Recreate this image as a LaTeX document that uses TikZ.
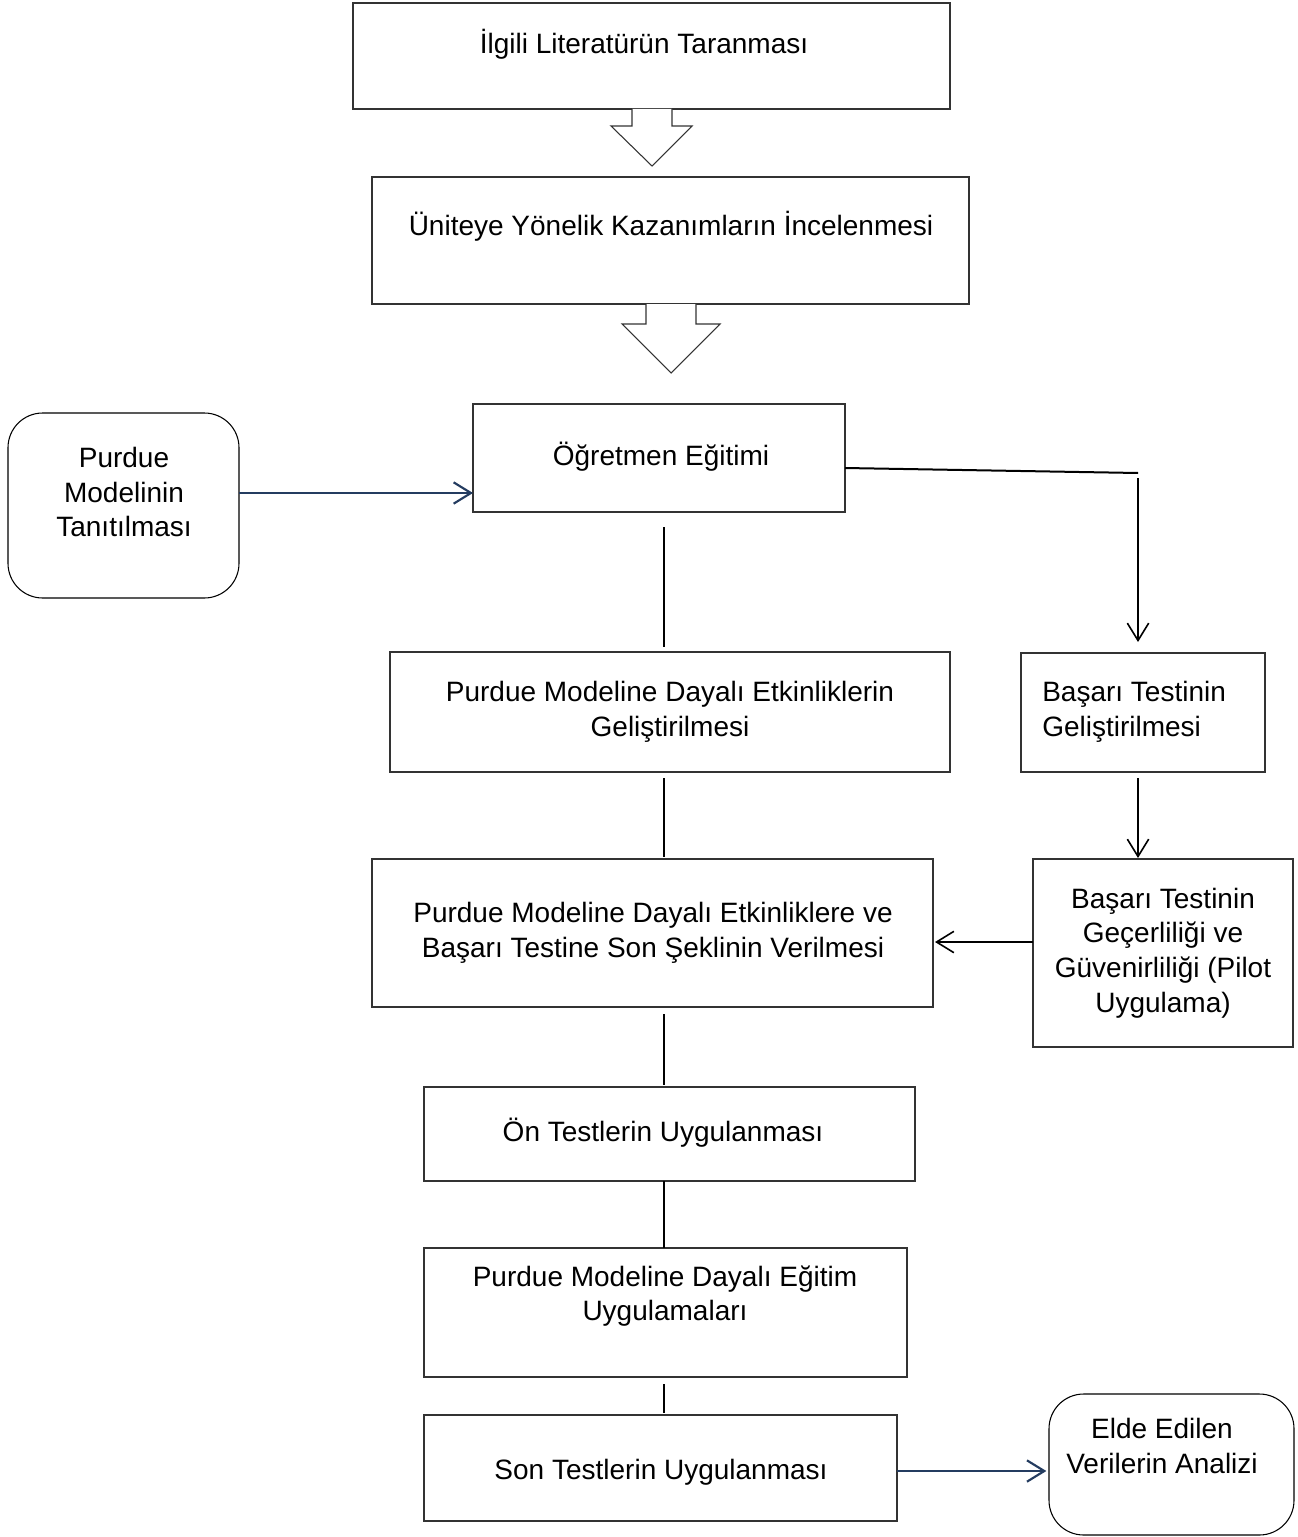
\documentclass[tikz,border=0pt]{standalone}
\usepackage{fontspec}
\setmainfont{Liberation Sans}
\usetikzlibrary{arrows.meta,fit,calc}
\definecolor{navyc}{RGB}{36,60,96}
\begin{document}
\begin{tikzpicture}[x=0.75pt,y=-0.75pt,
  box/.style={draw=black!80, line width=0.8pt, inner sep=0pt, outer sep=0pt},
  rbox/.style={box, draw=black, rounded corners=26pt},
  txt/.style={font=\fontsize{21}{26}\selectfont, align=center, inner sep=0pt},
  conn/.style={line width=1.5pt, draw=black},
  tipv/.style={-{Straight Barb[length=13pt,width=16pt,line width=1.2pt]}},
  navy/.style={line width=1.7pt, draw=navyc},
  tipn/.style={-{Straight Barb[length=13pt,width=16pt,line width=1.6pt]}},
  blockarrow/.style={draw=black!80, line width=0.8pt, line join=miter}
]
\useasboundingbox (0,0) rectangle (1297,1537);

% boxes
\node[box, fit={(353,3) (950,109)}] (b1) {};
\node[box, fit={(372,177) (969,304)}] (b2) {};
\node[box, fit={(473,404) (845,512)}] (b3) {};
\node[rbox, fit={(8,413) (239,598)}] (bP) {};
\node[box, fit={(390,652) (950,772)}] (b4) {};
\node[box, fit={(1021,653) (1265,772)}] (b5) {};
\node[box, fit={(372,859) (933,1007)}] (b6) {};
\node[box, fit={(1033,859) (1293,1047)}] (b7) {};
\node[box, fit={(424,1087) (915,1181)}] (b8) {};
\node[box, fit={(424,1248) (907,1377)}] (b9) {};
\node[box, fit={(424,1415) (897,1521)}] (b10) {};
\node[rbox, fit={(1049,1394) (1294,1535)}] (bE) {};

% texts
\node[txt] (t1) at (644,44) {İlgili Literatürün Taranması};
\node[txt] (t2) at (671,226) {Üniteye Yönelik Kazanımların İncelenmesi};
\node[txt] (t3) at (661,457) {Öğretmen Eğitimi};
\node[txt] (tP) at (124,492) {Purdue\\Modelinin\\Tanıtılması};
\node[txt] (t4) at (670,712) {Purdue Modeline Dayalı Etkinliklerin\\Geliştirilmesi};
\node[txt, align=left, anchor=west] (t5) at (1042,712) {Başarı Testinin\\Geliştirilmesi};
\node[txt] (t6) at (653,933) {Purdue Modeline Dayalı Etkinliklere ve\\Başarı Testine Son Şeklinin Verilmesi};
\node[txt] (t7) at (1163,953) {Başarı Testinin\\Geçerliliği ve\\Güvenirliliği (Pilot\\Uygulama)};
\node[txt] (t8) at (663,1133) {Ön Testlerin Uygulanması};
\node[txt] (t9) at (665,1296) {Purdue Modeline Dayalı Eğitim\\Uygulamaları};
\node[txt] (t10) at (661,1472) {Son Testlerin Uygulanması};
\node[txt] (tE) at (1162,1446) {Elde Edilen\\Verilerin Analizi};

% block arrows
\fill[white] (632,109) -- (632,126) -- (611,126) -- (652,166) -- (692,126) -- (672,126) -- (672,109) -- cycle;
\draw[blockarrow] (632,109) -- (632,126) -- (611,126) -- (652,166) -- (692,126) -- (672,126) -- (672,109);
\fill[white] (646,304) -- (646,324) -- (622,324) -- (671,373) -- (720,324) -- (696,324) -- (696,304) -- cycle;
\draw[blockarrow] (646,304) -- (646,324) -- (622,324) -- (671,373) -- (720,324) -- (696,324) -- (696,304);

% connectors
\coordinate (spine) at (664,0);
\coordinate (k1) at (1138,473);
\coordinate (k2) at (1138,478);
\coordinate (k3) at (0,942);
\coordinate (k4) at (0,493);
\coordinate (k5) at (0,1471);

\draw[conn, shorten <=11.25pt, shorten >=3.75pt] (b3.south -| spine) -- (b4.north -| spine);
\draw[conn, shorten <=4.5pt, shorten >=1.5pt] (b4.south -| spine) -- (b6.north -| spine);
\draw[conn, shorten <=5.25pt, shorten >=1.5pt] (b6.south -| spine) -- (b8.north -| spine);
\draw[conn] (b8.south -| spine) -- (b9.north -| spine);
\draw[conn, shorten <=5.25pt, shorten >=1.5pt] (b9.south -| spine) -- (b10.north -| spine);

\draw[conn] ([yshift=-7.5pt]b3.east) -- (k1);
\draw[conn, tipv, shorten >=8.25pt] (k2) -- (b5.north -| k2);
\draw[conn, tipv, shorten <=4.5pt, shorten >=0.75pt] (b5.south -| k2) -- (b7.north -| k2);
\draw[conn, tipv, shorten >=1.5pt] (b7.west |- k3) -- (b6.east |- k3);

\draw[navy, tipn] (bP.east |- k4) -- (b3.west |- k4);
\draw[navy, tipn, shorten >=2pt] (b10.east |- k5) -- (bE.west |- k5);
\end{tikzpicture}
\end{document}
